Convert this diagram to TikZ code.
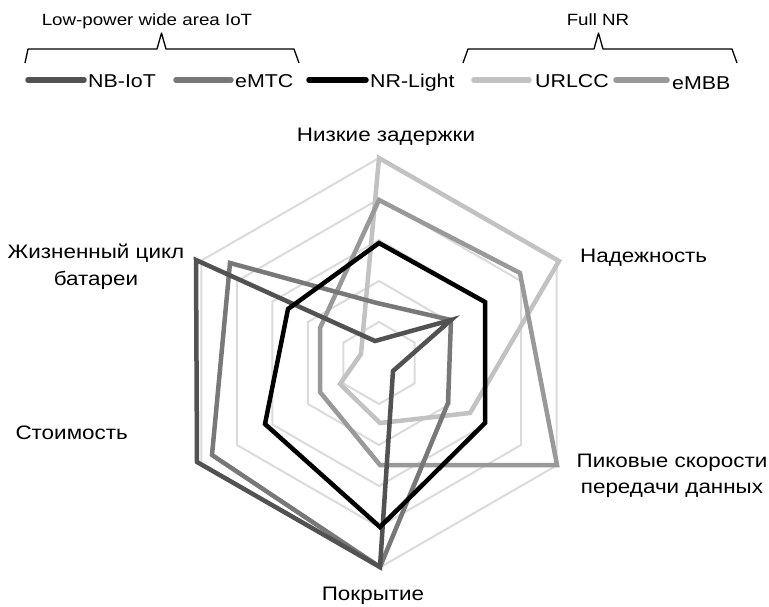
\documentclass[tikz,border=0pt]{standalone}
\usepackage{fontspec}
\setmainfont[FakeStretch=1.15]{Liberation Sans}
\begin{document}
\begin{tikzpicture}[x=1pt,y=-1pt,
  gridline/.style={draw=black!14, line width=2pt},
  series/.style={line width=4.5pt, line join=miter},
  legline/.style={line width=5.5pt, line cap=round},
  lab/.style={inner sep=0pt, font=\fontsize{19.5}{23}\selectfont},
  legtext/.style={inner sep=0pt, font=\fontsize{18.6}{22}\selectfont},
  headtext/.style={inner sep=0pt, font=\fontsize{16.3}{19}\selectfont},
  bracepath/.style={draw=black, line width=1.3pt, line join=round}]
\definecolor{cNB}{gray}{0.32}
\definecolor{cMTC}{gray}{0.47}
\definecolor{cNR}{gray}{0}
\definecolor{cURL}{gray}{0.76}
\definecolor{cMBB}{gray}{0.6}
\useasboundingbox (0,0) rectangle (769,606);
\fill[white] (0,0) rectangle (769,606);

% grid hexagons
\foreach \r in {41,82,123,164,205}{
  \draw[gridline] (379,363-\r) -- ({379+0.866*\r},{363-0.5*\r}) -- ({379+0.866*\r},{363+0.5*\r})
    -- (379,363+\r) -- ({379-0.866*\r},{363+0.5*\r}) -- ({379-0.866*\r},{363-0.5*\r}) -- cycle;
}

% data polygons
\draw[series, draw=cURL] (379,158) -- (559,261) -- (470,413) -- (380,423) -- (340,384) -- (361,354) -- cycle;
\draw[series, draw=cMBB] (379,200) -- (520,273) -- (557,465) -- (380,465) -- (320,392) -- (320,328) -- cycle;
\draw[series, draw=cMTC] (230,263) -- (377,303) -- (451,320) -- (448,403) -- (380,567) -- (212,455) -- cycle;
\draw[series, draw=cNB] (196,260) -- (375,341) -- (451,320) -- (393,371) -- (380,567) -- (197,462) -- cycle;
\draw[series, draw=cNR] (379,243) -- (485,302) -- (485,423) -- (380,527) -- (265,424) -- (288,309) -- cycle;

% axis labels
\node[lab, anchor=base] (lat) at (386,141.7) {Низкие задержки};
\node[lab, anchor=base west] (rel) at (580,262) {Надежность};
\node[lab, anchor=base] (peak1) at (672,467) {Пиковые скорости};
\node[lab, anchor=base] (peak2) at (672,493) {передачи данных};
\node[lab, anchor=base] (cov) at (373,600) {Покрытие};
\node[lab, anchor=base east] (cost) at (128,439) {Стоимость};
\node[lab, anchor=base] (bat1) at (96,258) {Жизненный цикл};
\node[lab, anchor=base] (bat2) at (96,285) {батареи};

% headers and braces
\node[headtext, anchor=base] (lpwa) at (147,25) {Low-power wide area IoT};
\node[headtext, anchor=base] (full) at (598,25) {Full NR};
\coordinate (b1a) at (25,63);
\coordinate (b1b) at (299,63);
\coordinate (b2a) at (463,63);
\coordinate (b2b) at (737,63);
\draw[bracepath] (b1a) -- (28,49) -- (157,49) -- (161.5,33) -- (166,49) -- (294,49) -- (b1b);
\draw[bracepath] (b2a) -- (468,49) -- (594,49) -- (598.5,33) -- (603,49) -- (732,49) -- (b2b);

% legend
\coordinate (l1a) at (28,80); \coordinate (l1b) at (84,80);
\coordinate (l2a) at (176,80); \coordinate (l2b) at (231,80);
\coordinate (l3a) at (309,80); \coordinate (l3b) at (366,80);
\coordinate (l4a) at (474,80); \coordinate (l4b) at (529,80);
\coordinate (l5a) at (616,80); \coordinate (l5b) at (667,80);
\draw[legline, draw=cNB] (l1a) -- (l1b);
\draw[legline, draw=cMTC] (l2a) -- (l2b);
\draw[legline, draw=cNR] (l3a) -- (l3b);
\draw[legline, draw=cURL] (l4a) -- (l4b);
\draw[legline, draw=cMBB] (l5a) -- (l5b);
\node[legtext, anchor=base west] (tNB) at (88,87) {NB-IoT};
\node[legtext, anchor=base west] (tMTC) at (235,87) {eMTC};
\node[legtext, anchor=base west] (tNR) at (370,87) {NR-Light};
\node[legtext, anchor=base west] (tURL) at (535,87) {URLCC};
\node[legtext, anchor=base west] (tMBB) at (672,89) {eMBB};
\end{tikzpicture}
\end{document}
